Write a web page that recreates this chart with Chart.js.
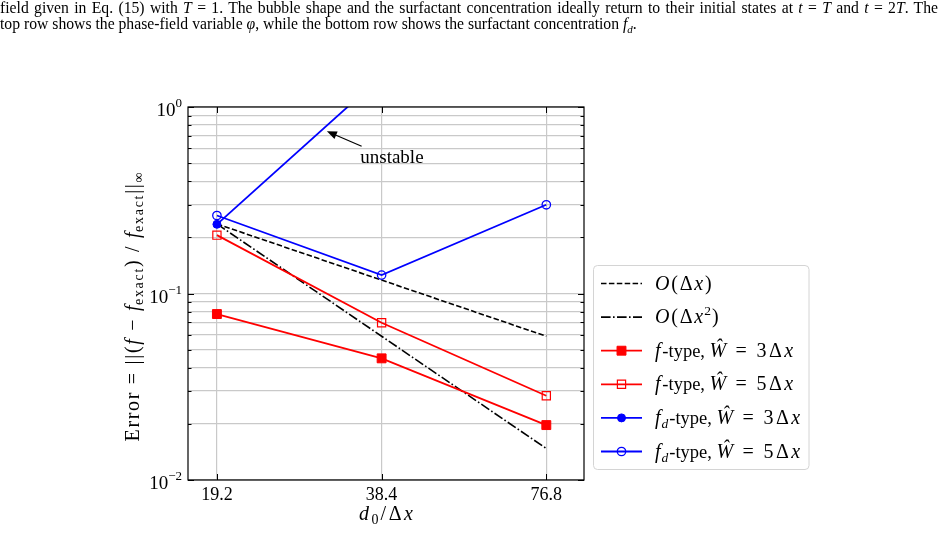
<!DOCTYPE html>
<html><head><meta charset="utf-8">
<script src="https://cdn.jsdelivr.net/npm/chart.js@4.4.0/dist/chart.umd.min.js"></script>
<style>
html,body{margin:0;padding:0;background:#fff;}
#wrap{position:relative;width:945px;height:534px;overflow:hidden;background:#fff;}
canvas{position:absolute;left:0;top:0;}
#cap{position:absolute;left:0;top:0;width:938px;font-family:"Liberation Serif",serif;font-size:15.7px;line-height:16px;color:#000;}
#cap .l1{text-align:justify;text-align-last:justify;}
#cap sub{font-size:11px;line-height:0;}
</style></head><body>
<div id="wrap">
<canvas id="c" width="945" height="534"></canvas>
<div id="cap">
<div class="l1">field given in Eq. (15) with <i>T</i> = 1. The bubble shape and the surfactant concentration ideally return to their initial states at <i>t</i> = <i>T</i> and <i>t</i> = 2<i>T</i>. The</div>
<div>top row shows the phase-field variable <i>φ</i>, while the bottom row shows the surfactant concentration <i>f<sub>d</sub></i>.</div>
</div>
</div>
<script>
// ---- data ----
const resolution = [19.2, 38.4, 76.8];
const xTickLabels = ['19.2', '38.4', '76.8'];
const yTickExponents = [0, -1, -2];
const orderOne = [0.236, 0.118, 0.059];
const orderTwo = [0.236, 0.059, 0.01475];
const fTypeW3 = [0.0776, 0.0449, 0.0197];
const fTypeW5 = [0.2055, 0.0697, 0.0283];
const fdTypeW3 = [0.235, 1.46, null];
const fdTypeW5 = [0.262, 0.1255, 0.299];
const seriesLabels = ['O(Δx)', 'O(Δx²)', 'f-type, Ŵ=3Δx', 'f-type, Ŵ=5Δx', 'fd-type, Ŵ=3Δx', 'fd-type, Ŵ=5Δx'];
const annotationText = 'unstable';
const annotationArrow = {head: [30.5, 0.741], tail: [35.3, 0.616], text: [40.1, 0.538]};

const SERIF = '"Liberation Serif", serif';
const F = (s, it) => (it ? 'italic ' : '') + s + 'px ' + SERIF;
const toXY = arr => resolution.map((x, i) => ({x: x, y: arr[i]}));

// rich text segments: [text, font, dy, letterSpacing]
const MI = F(20, true), MR = F(20), T = F(18.5), MS = F(13.5), MSI = F(13.5, true);
const LS = 1.8, LE = 2.4;
const EQ3 = ' = 3Δ', EQ5 = ' = 5Δ';
const legendRich = [
  [['O', MI, 0, LS], ['(Δ', MR, 0, LS], ['x', MI, 0, LS], [')', MR, 0, 0]],
  [['O', MI, 0, LS], ['(Δ', MR, 0, LS], ['x', MI, 0, 1], ['2', MS, -8, 1], [')', MR, 0, 0]],
  [['f', MI, 0, LS], ['-type, ', T, 0, 0], ['Ŵ', MI, 0, LS], [EQ3, MR, 0, LE], ['x', MI, 0, 0]],
  [['f', MI, 0, LS], ['-type, ', T, 0, 0], ['Ŵ', MI, 0, LS], [EQ5, MR, 0, LE], ['x', MI, 0, 0]],
  [['f', MI, 0, 1], ['d', MSI, 4, 1], ['-type, ', T, 0, 0], ['Ŵ', MI, 0, LS], [EQ3, MR, 0, LE], ['x', MI, 0, 0]],
  [['f', MI, 0, 1], ['d', MSI, 4, 1], ['-type, ', T, 0, 0], ['Ŵ', MI, 0, LS], [EQ5, MR, 0, LE], ['x', MI, 0, 0]]
];

function segWidth(ctx, s) {
  ctx.font = s[1];
  const ls = s[3] || 0;
  return ctx.measureText(s[0]).width + ls * [...s[0]].length;
}
function rich(ctx, segs, x, y, align) {
  let w = 0;
  for (const s of segs) w += segWidth(ctx, s);
  let cx = align === 'center' ? x - w / 2 : align === 'right' ? x - w : x;
  ctx.textAlign = 'left';
  ctx.textBaseline = 'alphabetic';
  for (const s of segs) {
    ctx.font = s[1];
    const ls = s[3] || 0;
    if (!ls) {
      ctx.fillText(s[0], cx, y + (s[2] || 0));
      cx += ctx.measureText(s[0]).width;
    } else {
      for (const ch of s[0]) {
        ctx.fillText(ch, cx, y + (s[2] || 0));
        cx += ctx.measureText(ch).width + ls;
      }
    }
  }
}

const datasets = [
  {label: seriesLabels[0], data: toXY(orderOne), borderColor: '#000', borderWidth: 1.6, borderDash: [5.5, 2.4], pointRadius: 0, order: 5},
  {label: seriesLabels[1], data: toXY(orderTwo), borderColor: '#000', borderWidth: 1.6, borderDash: [9.6, 2.4, 1.6, 2.4], pointRadius: 0, order: 4},
  {label: seriesLabels[2], data: toXY(fTypeW3), borderColor: '#ff0000', borderWidth: 1.8, pointStyle: 'rect', pointRadius: 6.3, pointBackgroundColor: '#ff0000', pointBorderColor: '#ff0000', pointBorderWidth: 1, order: 3},
  {label: seriesLabels[3], data: toXY(fTypeW5), borderColor: '#ff0000', borderWidth: 1.8, pointStyle: 'rect', pointRadius: 5.8, pointBackgroundColor: 'rgba(255,255,255,0)', pointBorderColor: '#ff0000', pointBorderWidth: 1.2, order: 2},
  {label: seriesLabels[4], data: toXY(fdTypeW3), borderColor: '#0000ff', borderWidth: 1.8, pointStyle: 'circle', pointRadius: 4, pointBackgroundColor: '#0000ff', pointBorderColor: '#0000ff', pointBorderWidth: 1, order: 1},
  {label: seriesLabels[5], data: toXY(fdTypeW5), borderColor: '#0000ff', borderWidth: 1.8, pointStyle: 'circle', pointRadius: 4.2, pointBackgroundColor: 'rgba(255,255,255,0)', pointBorderColor: '#0000ff', pointBorderWidth: 1.3, order: 0}
];

const GRID = '#c9c9c9';

const decorPlugin = {
  id: 'decor',
  afterDraw(chart) {
    const ctx = chart.ctx, a = chart.chartArea, xs = chart.scales.x, ys = chart.scales.y;
    ctx.save();
    // inward ticks
    ctx.strokeStyle = '#000'; ctx.lineWidth = 1;
    ys.ticks.forEach(t => {
      const y = Math.round(ys.getPixelForValue(t.value)) + 0.5;
      const major = Math.abs(Math.log10(t.value) - Math.round(Math.log10(t.value))) < 1e-6;
      const L = major ? 6 : 3.5;
      ctx.beginPath();
      ctx.moveTo(a.left, y); ctx.lineTo(a.left + L, y);
      ctx.moveTo(a.right, y); ctx.lineTo(a.right - L, y);
      ctx.stroke();
    });
    resolution.forEach(v => {
      const x = Math.round(xs.getPixelForValue(v)) + 0.5;
      ctx.beginPath();
      ctx.moveTo(x, a.bottom); ctx.lineTo(x, a.bottom - 6);
      ctx.moveTo(x, a.top); ctx.lineTo(x, a.top + 6);
      ctx.stroke();
    });
    // frame
    ctx.lineWidth = 1.2;
    ctx.strokeRect(a.left, a.top, a.right - a.left, a.bottom - a.top);
    // y tick labels 10^k
    ctx.fillStyle = '#000';
    yTickExponents.forEach(e => {
      const y = ys.getPixelForValue(Math.pow(10, e));
      const expStr = e < 0 ? '\u2212' + Math.abs(e) : String(e);
      rich(ctx, [['10', F(19)], [expStr, F(13), -9]], a.left - 6, y + 9, 'right');
    });
    // x tick labels
    resolution.forEach((v, i) => {
      rich(ctx, [[xTickLabels[i], F(18)]], xs.getPixelForValue(v), 499.5, 'center');
    });
    // x axis label
    rich(ctx, [['d', F(20, true), 0, 2.5], ['0', F(14), 4, 2], ['/Δ', F(20), 0, 2.5], ['x', F(20, true), 0, 0]], (a.left + a.right) / 2, 520, 'center');
    // y axis label
    ctx.save();
    ctx.translate(139, 307);
    ctx.rotate(-Math.PI / 2);
    const YR = F(20), YI = F(20, true), YS = F(14), L2 = 1.7;
    rich(ctx, [
      ['Error = ||(', YR, 0, L2], ['f', YI, 0, L2], [' − ', YR, 0, L2], ['f', YI, 0, 0.5], ['exact', YS, 4, L2],
      [') / ', YR, 0, L2], ['f', YI, 0, 0.5], ['exact', YS, 4, L2], ['||', YR, 0, L2], ['∞', YS, 4, 0]
    ], 0, 0, 'center');
    ctx.restore();
    // annotation arrow
    const hx = xs.getPixelForValue(annotationArrow.head[0]), hy = ys.getPixelForValue(annotationArrow.head[1]);
    const tx = xs.getPixelForValue(annotationArrow.tail[0]), ty = ys.getPixelForValue(annotationArrow.tail[1]);
    const ang = Math.atan2(hy - ty, hx - tx);
    const hl = 10, hw = 4;
    const bx = hx - hl * Math.cos(ang), by = hy - hl * Math.sin(ang);
    ctx.strokeStyle = '#000'; ctx.lineWidth = 1.2;
    ctx.beginPath(); ctx.moveTo(tx, ty); ctx.lineTo(bx, by); ctx.stroke();
    ctx.beginPath();
    ctx.moveTo(hx, hy);
    ctx.lineTo(bx + hw * Math.sin(ang), by - hw * Math.cos(ang));
    ctx.lineTo(bx - hw * Math.sin(ang), by + hw * Math.cos(ang));
    ctx.closePath(); ctx.fillStyle = '#000'; ctx.fill();
    rich(ctx, [[annotationText, F(19)]], xs.getPixelForValue(annotationArrow.text[0]), ys.getPixelForValue(annotationArrow.text[1]) + 6, 'center');
    // legend
    const lx = 593.5, ly = 265.5, lw = 215.5, lh = 204;
    ctx.beginPath();
    ctx.roundRect(lx, ly, lw, lh, 4);
    ctx.fillStyle = 'rgba(255,255,255,0.85)'; ctx.fill();
    ctx.strokeStyle = '#d4d4d4'; ctx.lineWidth = 1; ctx.stroke();
    chart.data.datasets.forEach((ds, i) => {
      const y = 283.5 + i * 33.6;
      ctx.save();
      ctx.strokeStyle = ds.borderColor; ctx.lineWidth = ds.borderWidth;
      ctx.setLineDash(ds.borderDash || []);
      ctx.beginPath(); ctx.moveTo(601, y); ctx.lineTo(642, y); ctx.stroke();
      ctx.setLineDash([]);
      const cx = 621.5;
      if (ds.pointRadius > 0) {
        ctx.fillStyle = ds.pointBackgroundColor; ctx.strokeStyle = ds.pointBorderColor; ctx.lineWidth = ds.pointBorderWidth;
        ctx.beginPath();
        if (ds.pointStyle === 'rect') {
          const h = ds.pointRadius * Math.SQRT1_2;
          ctx.rect(cx - h, y - h, 2 * h, 2 * h);
        } else {
          ctx.arc(cx, y, ds.pointRadius, 0, Math.PI * 2);
        }
        ctx.fill(); ctx.stroke();
      }
      ctx.restore();
      ctx.fillStyle = '#000';
      rich(ctx, legendRich[i], 655, y + 6, 'left');
    });
    ctx.restore();
  }
};

new Chart(document.getElementById('c'), {
  type: 'line',
  data: {datasets: datasets},
  options: {
    responsive: false,
    animation: false,
    events: [],
    layout: {padding: {left: 188, top: 107, right: 361, bottom: 54}},
    plugins: {legend: {display: false}, tooltip: {enabled: false}},
    elements: {line: {tension: 0}},
    scales: {
      x: {
        type: 'logarithmic', min: 17, max: 90,
        afterBuildTicks: s => { s.ticks = resolution.map(v => ({value: v})); },
        afterFit: s => { s.height = 0; },
        ticks: {display: false},
        grid: {color: GRID, lineWidth: 1.2, drawTicks: false},
        border: {display: false}
      },
      y: {
        type: 'logarithmic', min: 0.01, max: 1,
        afterBuildTicks: s => {
          const t = [];
          [-2, -1].forEach(e => { for (let m = 1; m < 10; m++) t.push({value: m * Math.pow(10, e)}); });
          t.push({value: 1});
          s.ticks = t;
        },
        afterFit: s => { s.width = 0; },
        ticks: {display: false},
        grid: {color: GRID, lineWidth: 1.2, drawTicks: false},
        border: {display: false}
      }
    }
  },
  plugins: [decorPlugin]
});
</script>
</body></html>
